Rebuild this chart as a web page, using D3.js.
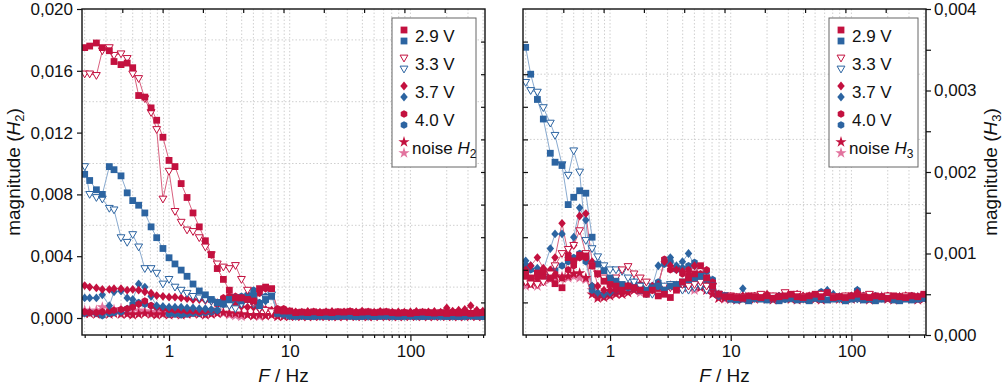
<!DOCTYPE html>
<html>
<head>
<meta charset="utf-8">
<script src="https://cdn.jsdelivr.net/npm/d3@7"></script>
<style>
  body { margin: 0; background: #fff; }
  svg { font-family: "Liberation Sans", Arial, sans-serif; }
  .grid line { stroke: #cfcfcf; stroke-dasharray: 1.5,2; stroke-width: 1; }
  .tick text { font-size: 17px; fill: #111; }
  .tick line { stroke: #111; stroke-width: 1.2; }
</style>
</head>
<body>
<div id="chart"></div>
<script>
  const width = 1003, height = 391;

  // excitation frequency in Hz
  const freq = [0.2,0.22,0.25,0.28,0.32,0.35,0.4,0.45,0.5,0.56,0.63,0.71,0.79,0.89,1,1.12,1.26,1.41,1.58,1.78,
    2,2.24,2.51,2.82,3.16,3.55,3.98,4.47,5.01,5.62,6.31,7.08,7.94,8.91,
    10,11.2,12.6,14.1,15.8,17.8,20,22.4,25.1,28.2,31.6,35.5,39.8,44.7,50.1,56.2,63.1,70.8,79.4,89.1,
    100,112,126,141,158,178,200,224,251,282,316,355,398];

  // H2 magnitudes, in units of 1e-3 (r = red series, b = blue series)
  const h2_29r = [17.5,17.6,17.8,17.5,17.3,16.6,16.4,16.5,16.2,14.4,14.3,13.6,12.8,11.7,10.2,9.8,8.7,7.8,6.8,5.9,5.0,4.1,3.2,2.5,1.8,1.3,1.3,1.2,1.1,1.9,2.0,1.9,0.5,0.45,
    0.45,0.35,0.38,0.35,0.4,0.35,0.38,0.35,0.4,0.38,0.42,0.35,0.38,0.4,0.35,0.38,0.4,0.35,0.32,0.35,0.3,0.35,0.38,0.35,0.32,0.35,0.3,0.35,0.32,0.35,0.3,0.32,0.35];
  const h2_29b = [9.3,8.9,8.3,8.0,9.8,9.6,9.2,8.1,7.6,7.3,6.8,5.9,5.2,4.5,3.9,3.5,3.1,2.7,2.2,1.75,1.5,1.2,1.0,0.9,1.2,1.3,1.1,1.2,1.4,0.8,1.2,1.4,0.3,0.25,
    0.15,0.12,0.15,0.1,0.12,0.15,0.12,0.1,0.12,0.15,0.12,0.1,0.12,0.15,0.1,0.12,0.15,0.12,0.1,0.12,0.15,0.12,0.1,0.12,0.15,0.12,0.1,0.12,0.1,0.12,0.15,0.12,0.1];
  const h2_33r = [15.8,15.8,15.7,17.3,17.5,17.0,17.1,16.8,15.8,15.5,14.2,13.3,12.2,7.7,9.5,6.9,6.2,5.7,5.6,5.2,4.6,4.1,3.5,3.3,3.2,3.4,2.5,1.8,1.0,0.6,0.5,0.4,0.3,0.25,
    0.2,0.18,0.2,0.22,0.2,0.18,0.2,0.22,0.2,0.18,0.2,0.22,0.25,0.2,0.18,0.2,0.22,0.2,0.18,0.2,0.22,0.2,0.18,0.2,0.2,0.22,0.2,0.18,0.2,0.22,0.2,0.18,0.2];
  const h2_33b = [9.8,8.0,7.8,7.7,7.1,7.0,5.2,4.9,5.4,4.6,3.2,3.2,2.9,2.2,2.5,2.0,1.8,1.6,1.4,1.3,1.2,1.1,1.0,0.9,0.8,0.6,0.9,1.2,0.9,0.6,1.3,1.5,0.3,0.2,
    0.12,0.1,0.12,0.15,0.12,0.1,0.12,0.1,0.12,0.15,0.12,0.1,0.12,0.1,0.12,0.15,0.12,0.1,0.12,0.1,0.12,0.1,0.12,0.15,0.12,0.1,0.12,0.1,0.12,0.1,0.12,0.15,0.12];
  const h2_37r = [2.1,2.0,1.95,1.85,1.85,1.9,1.9,1.8,1.85,1.8,1.7,1.6,1.45,1.4,1.35,1.35,1.3,1.25,1.2,1.2,1.15,1.1,1.0,0.9,0.85,0.8,0.75,0.7,0.7,0.6,0.55,0.5,0.45,0.45,
    0.42,0.4,0.38,0.42,0.4,0.38,0.4,0.42,0.38,0.4,0.42,0.4,0.45,0.4,0.38,0.42,0.4,0.38,0.4,0.38,0.4,0.42,0.38,0.4,0.42,0.38,0.65,0.45,0.5,0.55,0.8,0.5,0.45];
  const h2_37b = [1.3,1.3,1.3,1.5,0.8,1.7,1.75,1.3,1.2,2.2,2.0,1.4,0.8,0.75,0.7,0.7,0.7,0.65,0.65,0.6,0.6,0.55,0.5,0.9,1.0,0.9,1.2,1.3,1.6,0.9,1.1,1.5,0.3,0.3,
    0.2,0.18,0.2,0.22,0.2,0.18,0.2,0.22,0.2,0.18,0.2,0.2,0.22,0.2,0.18,0.2,0.22,0.2,0.18,0.2,0.22,0.2,0.18,0.2,0.22,0.2,0.18,0.2,0.22,0.2,0.18,0.2,0.2];
  const h2_40r = [0.4,0.35,0.35,0.4,0.45,0.5,0.55,0.6,0.7,0.9,1.1,0.8,0.7,0.6,0.55,0.5,0.5,0.45,0.45,0.4,0.45,0.5,0.9,1.3,1.4,1.4,1.3,1.2,1.0,1.6,1.9,1.8,0.6,0.6,
    0.35,0.32,0.35,0.3,0.35,0.32,0.35,0.3,0.35,0.32,0.3,0.35,0.32,0.35,0.3,0.32,0.35,0.3,0.32,0.3,0.35,0.3,0.32,0.3,0.35,0.3,0.32,0.3,0.35,0.3,0.32,0.35,0.3];
  const h2_40b = [0.3,0.35,0.3,0.15,0.3,0.35,0.4,0.6,0.9,1.0,0.9,0.8,0.7,0.65,0.25,0.25,0.2,0.25,0.3,0.3,0.35,0.4,0.5,1.2,1.3,1.2,1.4,1.5,1.8,1.0,1.4,1.5,0.3,0.3,
    0.15,0.12,0.15,0.12,0.1,0.12,0.15,0.12,0.1,0.12,0.15,0.12,0.1,0.12,0.15,0.12,0.1,0.12,0.15,0.12,0.1,0.12,0.15,0.12,0.1,0.12,0.15,0.12,0.1,0.12,0.15,0.12,0.1];
  const h2_noiseR = [0.3,0.3,0.25,0.3,0.25,0.3,0.25,0.25,0.2,0.25,0.3,0.25,0.2,0.25,0.2,0.25,0.2,0.25,0.3,0.25,0.2,0.25,0.3,0.35,0.3,0.3,0.25,0.2,0.15,0.2,0.15,0.2,0.1,0.1,
    0.1,0.12,0.1,0.08,0.1,0.12,0.1,0.1,0.08,0.1,0.12,0.1,0.1,0.08,0.1,0.12,0.1,0.1,0.08,0.1,0.12,0.1,0.1,0.08,0.1,0.12,0.1,0.1,0.08,0.1,0.12,0.1,0.1];
  const h2_noiseP = [0.5,0.45,0.5,0.7,0.6,0.55,0.6,0.5,0.45,0.5,0.45,0.4,0.4,0.35,0.35,0.3,0.35,0.3,0.35,0.4,0.5,0.45,0.5,0.3,0.2,0.15,0.1,0.2,0.15,0.1,0.15,0.2,0.1,0.1,
    0.15,0.12,0.15,0.12,0.15,0.12,0.15,0.12,0.15,0.12,0.15,0.12,0.15,0.12,0.15,0.12,0.15,0.12,0.15,0.12,0.15,0.12,0.15,0.12,0.15,0.12,0.15,0.12,0.15,0.12,0.15,0.12,0.15];

  // H3 magnitudes, in units of 1e-3
  const h3_29r = [0.75,0.7,0.76,0.78,0.7,0.63,0.58,0.95,0.91,0.98,0.97,0.85,0.75,0.66,0.62,0.6,0.55,0.6,0.58,0.55,0.5,0.55,0.48,0.5,0.46,0.55,0.65,0.7,0.75,0.85,0.7,0.6,0.5,0.47,
    0.47,0.46,0.45,0.48,0.47,0.46,0.48,0.45,0.47,0.48,0.5,0.47,0.46,0.48,0.5,0.47,0.52,0.46,0.47,0.46,0.48,0.5,0.47,0.46,0.48,0.47,0.45,0.48,0.47,0.46,0.48,0.47,0.5];
  const h3_29b = [3.53,3.2,2.89,2.65,2.23,2.12,2.08,1.6,1.69,1.77,1.74,1.2,0.87,0.79,0.7,0.66,0.62,0.6,0.58,0.55,0.55,0.58,0.6,0.55,0.6,0.62,0.65,0.68,0.7,0.72,0.7,0.6,0.5,0.48,
    0.44,0.43,0.44,0.42,0.45,0.44,0.43,0.45,0.42,0.44,0.45,0.43,0.44,0.42,0.45,0.44,0.43,0.44,0.45,0.42,0.44,0.45,0.43,0.44,0.42,0.44,0.45,0.43,0.42,0.44,0.43,0.44,0.45];
  const h3_33r = [0.65,0.63,0.62,0.65,0.75,0.85,1.0,1.05,1.1,1.28,1.0,0.85,0.75,0.7,0.68,0.7,0.8,0.84,0.75,0.7,0.65,0.55,0.5,0.55,0.58,0.6,0.62,0.6,0.62,0.65,0.6,0.6,0.5,0.48,
    0.48,0.47,0.46,0.47,0.48,0.5,0.47,0.48,0.46,0.52,0.48,0.5,0.47,0.46,0.48,0.5,0.48,0.47,0.46,0.48,0.47,0.46,0.48,0.5,0.47,0.46,0.48,0.47,0.46,0.48,0.47,0.46,0.48];
  const h3_33b = [3.1,3.0,2.98,2.79,2.6,2.45,2.09,1.96,2.26,2.0,1.16,1.06,0.96,0.85,0.8,0.8,0.78,0.7,0.65,0.6,0.6,0.5,0.6,0.6,0.62,0.6,0.55,0.55,0.58,0.6,0.55,0.6,0.5,0.48,
    0.45,0.44,0.46,0.44,0.45,0.46,0.44,0.45,0.46,0.44,0.45,0.46,0.44,0.45,0.46,0.44,0.45,0.46,0.44,0.45,0.46,0.44,0.45,0.46,0.44,0.45,0.46,0.44,0.45,0.46,0.44,0.45,0.46];
  const h3_37r = [0.8,0.85,0.95,0.82,0.8,0.95,1.37,1.0,1.1,1.46,1.49,0.9,0.6,0.55,0.55,0.55,0.6,0.6,0.58,0.6,0.58,0.6,0.62,0.9,0.85,0.8,0.78,0.75,0.85,0.7,0.6,0.55,0.5,0.48,
    0.47,0.46,0.48,0.47,0.46,0.48,0.5,0.47,0.46,0.48,0.47,0.5,0.48,0.46,0.47,0.5,0.48,0.47,0.46,0.47,0.48,0.52,0.47,0.48,0.46,0.47,0.48,0.46,0.47,0.48,0.46,0.47,0.48];
  const h3_37b = [0.91,0.85,0.82,0.8,1.06,1.24,1.24,0.95,1.2,1.56,1.41,0.6,0.52,0.5,0.52,0.55,0.6,0.6,0.65,0.6,0.55,0.6,0.85,0.9,0.95,0.85,0.9,1.0,0.85,0.7,0.65,0.6,0.48,0.47,
    0.46,0.45,0.57,0.46,0.45,0.47,0.46,0.45,0.47,0.48,0.46,0.48,0.47,0.46,0.48,0.5,0.55,0.5,0.47,0.46,0.48,0.55,0.48,0.47,0.46,0.47,0.46,0.45,0.47,0.46,0.45,0.47,0.48];
  const h3_40r = [0.7,0.68,0.7,0.72,0.7,0.75,0.7,0.8,0.85,0.95,0.95,0.6,0.5,0.5,0.52,0.55,0.55,0.6,0.6,0.62,0.6,0.58,0.6,0.93,0.8,0.82,0.75,0.8,0.7,0.75,0.8,0.65,0.48,0.47,
    0.46,0.45,0.47,0.46,0.48,0.46,0.47,0.45,0.48,0.5,0.48,0.47,0.46,0.48,0.47,0.5,0.52,0.48,0.47,0.46,0.47,0.5,0.48,0.46,0.47,0.46,0.48,0.47,0.46,0.47,0.48,0.46,0.47];
  const h3_40b = [0.85,0.8,0.75,0.7,0.75,0.8,0.85,0.9,0.95,1.0,0.9,0.55,0.5,0.5,0.52,0.55,0.58,0.58,0.6,0.55,0.5,0.6,0.65,0.87,0.9,0.8,0.82,0.85,0.89,0.7,0.78,0.68,0.48,0.47,
    0.47,0.46,0.47,0.46,0.47,0.48,0.47,0.46,0.48,0.5,0.47,0.48,0.46,0.47,0.48,0.53,0.52,0.47,0.46,0.47,0.48,0.55,0.47,0.46,0.48,0.47,0.46,0.47,0.46,0.47,0.48,0.46,0.47];
  const h3_noiseR = [0.65,0.62,0.65,0.68,0.7,0.72,0.7,0.72,0.75,0.76,0.7,0.5,0.45,0.46,0.48,0.5,0.5,0.52,0.55,0.55,0.55,0.58,0.55,0.55,0.6,0.6,0.58,0.6,0.6,0.58,0.55,0.5,0.45,0.45,
    0.44,0.43,0.44,0.43,0.44,0.45,0.44,0.43,0.44,0.45,0.44,0.43,0.44,0.45,0.44,0.43,0.44,0.45,0.44,0.43,0.44,0.45,0.44,0.43,0.44,0.45,0.44,0.43,0.44,0.45,0.44,0.43,0.44];
  const h3_noiseP = [0.6,0.62,0.6,0.65,0.68,0.7,0.72,0.7,0.72,0.7,0.68,0.55,0.48,0.48,0.5,0.52,0.5,0.55,0.55,0.52,0.55,0.55,0.58,0.58,0.6,0.58,0.6,0.58,0.55,0.6,0.55,0.52,0.45,0.44,
    0.46,0.45,0.46,0.45,0.46,0.47,0.46,0.45,0.46,0.47,0.46,0.45,0.46,0.47,0.46,0.45,0.46,0.47,0.46,0.45,0.46,0.47,0.46,0.45,0.46,0.47,0.46,0.45,0.46,0.47,0.46,0.45,0.46];

  const legendLabels = ['2.9 V', '3.3 V', '3.7 V', '4.0 V', 'noise'];
  const h2Ticks = [0, 4, 8, 12, 16, 20];
  const h3Ticks = [0, 1, 2, 3, 4];

  const red = '#c3113f', redLine = '#d9617f';
  const blue = '#2c64a1', blueLine = '#8aabd0';
  const pink = '#e2739e', pinkLine = '#eda6c1';

  const svg = d3.select('#chart').append('svg')
    .attr('width', width).attr('height', height);

  const loc = d3.formatLocale({ decimal: ',', thousands: '.', grouping: [3], currency: ['', ''] });
  const fmt = loc.format('.3f');
  const plotTop = 9, plotBottom = 335;

  function shape(type, r) {
    if (type === 'square') return `M${-r},${-r}h${2 * r}v${2 * r}h${-2 * r}Z`;
    if (type === 'tri') return `M${-r * 1.15},${-r * 0.85}L${r * 1.15},${-r * 0.85}L0,${r * 1.15}Z`;
    if (type === 'diamond') return `M0,${-r * 1.3}L${r * 1.1},0L0,${r * 1.3}L${-r * 1.1},0Z`;
    if (type === 'hex') {
      const p = d3.range(6).map(i => {
        const a = Math.PI / 6 + i * Math.PI / 3;
        return [r * 1.12 * Math.cos(a), r * 1.12 * Math.sin(a)];
      });
      return 'M' + p.join('L') + 'Z';
    }
    return d3.symbol(d3.symbolStar, r * r * 3.4)();
  }

  function series(vals) {
    return {
      r29: { v: vals[0], shape: 'square', fill: red, stroke: 'none', line: redLine },
      b29: { v: vals[1], shape: 'square', fill: blue, stroke: 'none', line: blueLine },
      r33: { v: vals[2], shape: 'tri', fill: '#fff', stroke: red, line: redLine },
      b33: { v: vals[3], shape: 'tri', fill: '#fff', stroke: blue, line: blueLine },
      r37: { v: vals[4], shape: 'diamond', fill: red, stroke: 'none', line: redLine },
      b37: { v: vals[5], shape: 'diamond', fill: blue, stroke: 'none', line: blueLine },
      r40: { v: vals[6], shape: 'hex', fill: red, stroke: 'none', line: redLine },
      b40: { v: vals[7], shape: 'hex', fill: blue, stroke: 'none', line: blueLine },
      nr: { v: vals[8], shape: 'star', fill: red, stroke: 'none', line: redLine },
      np: { v: vals[9], shape: 'star', fill: pink, stroke: 'none', line: pinkLine }
    };
  }

  function panel(o) {
    const x = d3.scaleLog().domain([0.19, 415]).range([o.left, o.right]);
    const y = d3.scaleLinear().domain(o.yDomain).range([plotBottom, plotTop]);
    const div = d3.scaleLinear().domain([0, 10]);
    const g = svg.append('g');

    const logTicks = x.ticks().filter(t => t > 0.19 && t < 415);
    const isMajor = t => Math.abs(Math.log10(t) - Math.round(Math.log10(t))) < 1e-6;
    const major = logTicks.filter(isMajor), minor = logTicks.filter(t => !isMajor(t));

    // grid
    const grid = g.append('g').attr('class', 'grid');
    grid.selectAll('.gx').data(logTicks).join('line')
      .attr('x1', d => x(d)).attr('x2', d => x(d)).attr('y1', plotTop).attr('y2', plotBottom);
    grid.selectAll('.gy').data(o.yGrid).join('line')
      .attr('y1', d => y(d)).attr('y2', d => y(d)).attr('x1', o.left).attr('x2', o.right);

    // data
    const clipId = 'clip' + o.id;
    svg.append('clipPath').attr('id', clipId).append('rect')
      .attr('x', o.left).attr('y', plotTop).attr('width', o.right - o.left).attr('height', plotBottom - plotTop);
    const plot = g.append('g').attr('clip-path', `url(#${clipId})`);
    const line = d3.line().x((d, i) => x(freq[i])).y(d => y(d));
    o.order.forEach(key => {
      const s = o.series[key];
      plot.append('path').attr('d', line(s.v)).attr('fill', 'none')
        .attr('stroke', s.line).attr('stroke-width', 1);
    });
    o.order.forEach(key => {
      const s = o.series[key];
      plot.append('g').selectAll('path').data(s.v).join('path')
        .attr('transform', (d, i) => `translate(${x(freq[i])},${y(d)})`)
        .attr('d', shape(s.shape, 3.4))
        .attr('fill', s.fill).attr('stroke', s.stroke).attr('stroke-width', 1);
    });

    // axes
    const noDomain = a => a.select('.domain').remove();
    g.append('g').attr('transform', `translate(0,${plotBottom})`)
      .call(d3.axisBottom(x).tickValues(major).tickSize(6).tickPadding(4).tickFormat(d3.format('')))
      .call(noDomain);
    g.append('g').attr('transform', `translate(0,${plotBottom})`)
      .call(d3.axisBottom(x).tickValues(minor).tickSize(3).tickFormat(''))
      .call(noDomain);
    g.append('g').attr('transform', `translate(0,${plotTop})`)
      .call(d3.axisTop(div.copy().range([o.left, o.right])).tickValues(d3.range(1, 10)).tickSize(-4).tickFormat(''))
      .call(noDomain);

    const vdiv = div.copy().range([plotBottom, plotTop]);
    if (o.id === 1) {
      g.append('g').attr('transform', `translate(${o.left},0)`)
        .call(d3.axisLeft(y).tickValues(h2Ticks).tickSize(5).tickPadding(4).tickFormat(v => fmt(v / 1000)))
        .call(noDomain);
      g.append('g').attr('transform', `translate(${o.right},0)`)
        .call(d3.axisRight(vdiv).tickValues(d3.range(1, 10)).tickSize(-4).tickFormat(''))
        .call(noDomain);
    } else {
      g.append('g').attr('transform', `translate(${o.left},0)`)
        .call(d3.axisLeft(vdiv).tickValues(d3.range(1, 10)).tickSize(-5).tickFormat(''))
        .call(noDomain);
      g.append('g').attr('transform', `translate(${o.right},0)`)
        .call(d3.axisRight(y).tickValues(h3Ticks).tickSize(5).tickPadding(3).tickFormat(v => fmt(v / 1000)))
        .call(noDomain);
      g.append('g').attr('transform', `translate(${o.right},0)`)
        .call(d3.axisRight(y).tickValues(h3Ticks.slice(0, -1).map(v => v + 0.5)).tickSize(5).tickFormat(''))
        .call(noDomain);
    }

    g.append('rect').attr('x', o.left).attr('y', plotTop)
      .attr('width', o.right - o.left).attr('height', plotBottom - plotTop)
      .attr('fill', 'none').attr('stroke', '#111').attr('stroke-width', 1.4);

    // x title
    const xt = g.append('text').attr('x', (o.left + o.right) / 2).attr('y', 382)
      .attr('text-anchor', 'middle').attr('font-size', 19).attr('fill', '#111');
    xt.append('tspan').attr('font-style', 'italic').text('F');
    xt.append('tspan').text(' / Hz');

    // y title
    const yt = g.append('text')
      .attr('transform', `translate(${o.titleX},172) rotate(-90)`)
      .attr('text-anchor', 'middle').attr('font-size', 19).attr('fill', '#111');
    yt.append('tspan').text('magnitude (');
    yt.append('tspan').attr('font-style', 'italic').text('H');
    yt.append('tspan').attr('font-size', 13).attr('dy', 4).text(o.harm);
    yt.append('tspan').attr('dy', -4).text(')');

    // legend
    const lg = g.append('g');
    lg.append('rect').attr('x', o.legX).attr('y', 18).attr('width', o.legW).attr('height', 149)
      .attr('fill', '#fff').attr('stroke', '#666').attr('stroke-width', 1);
    const pairs = [['r29', 'b29'], ['r33', 'b33'], ['r37', 'b37'], ['r40', 'b40'], ['nr', 'np']];
    pairs.forEach((p, i) => {
      const base = 42 + i * 28;
      p.forEach((key, j) => {
        const s = o.series[key];
        lg.append('path').attr('transform', `translate(${o.legX + 12},${base - 12 + j * 11})`)
          .attr('d', shape(s.shape, 3.4))
          .attr('fill', s.fill).attr('stroke', s.stroke).attr('stroke-width', 1);
      });
      const t = lg.append('text').attr('x', o.legX + (i === 4 ? 20 : 23)).attr('y', base)
        .attr('font-size', 17).attr('fill', '#111');
      if (i < 4) t.text(legendLabels[i]);
      else {
        t.append('tspan').text(legendLabels[i] + ' ');
        t.append('tspan').attr('font-style', 'italic').text('H');
        t.append('tspan').attr('font-size', 12).attr('dy', 4).text(o.harm);
      }
    });
  }

  const order = ['np', 'nr', 'b40', 'r40', 'b37', 'r37', 'b33', 'r33', 'b29', 'r29'];

  panel({
    id: 1, left: 82, right: 485, yDomain: [-1.1, 20], yGrid: [2, 6, 10, 14, 18],
    series: series([h2_29r, h2_29b, h2_33r, h2_33b, h2_37r, h2_37b, h2_40r, h2_40b, h2_noiseR, h2_noiseP]),
    order, harm: '2', titleX: 20, legX: 392, legW: 84
  });
  panel({
    id: 2, left: 523, right: 926, yDomain: [0, 4], yGrid: [0.8, 1.6, 2.4, 3.2],
    series: series([h3_29r, h3_29b, h3_33r, h3_33b, h3_37r, h3_37b, h3_40r, h3_40b, h3_noiseR, h3_noiseP]),
    order, harm: '3', titleX: 997, legX: 829, legW: 89
  });
</script>
</body>
</html>
